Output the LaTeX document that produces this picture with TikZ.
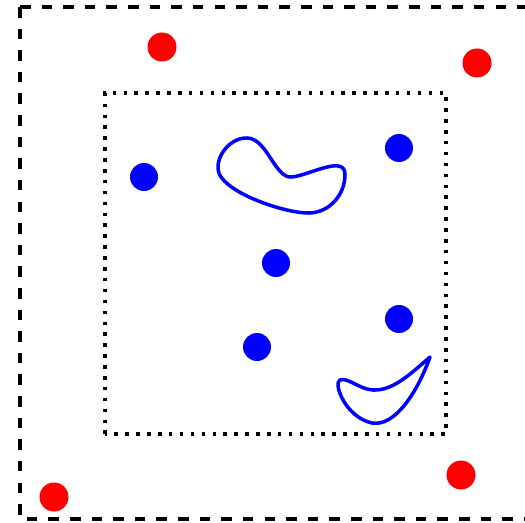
\documentclass[tikz,border=0pt]{standalone}
\usepackage{tikz}
\usetikzlibrary{calc}
\definecolor{outercol}{RGB}{255,0,0}
\definecolor{innercol}{RGB}{0,0,255}
\definecolor{framecol}{RGB}{0,0,0}

\begin{document}
\begin{tikzpicture}[
    outerbox/.style={framecol, line width=2.1pt, dash pattern=on 6pt off 6.3pt},
    innerbox/.style={framecol, line width=2pt, dash pattern=on 2pt off 4.2pt},
    blob/.style={innercol, line width=2pt},
    outerdot/.style={fill=outercol},
    innerdot/.style={fill=innercol},
]

\clip (0,0) rectangle (10.5,10.44);

% ════════════════════════════════════════════════════════
% 0. FRAMES
% ════════════════════════════════════════════════════════
\draw[outerbox] (0.40,10.30) -- (0.40,0.06) -- (10.9,0.06);
\draw[outerbox] (0.40,10.30) -- (10.9,10.30);
\draw[innerbox] (2.10,1.76) rectangle (8.92,8.58);

% ════════════════════════════════════════════════════════
% 1. RED POINTS (outside the inner frame)
% ════════════════════════════════════════════════════════
\fill[outerdot] (3.24, 9.50) circle (0.29);
\fill[outerdot] (9.54, 9.18) circle (0.29);
\fill[outerdot] (1.08, 0.50) circle (0.29);
\fill[outerdot] (9.22, 0.94) circle (0.29);

% ════════════════════════════════════════════════════════
% 2. BLUE POINTS (inside the inner frame)
% ════════════════════════════════════════════════════════
\fill[innerdot] (2.88, 6.90) circle (0.28);
\fill[innerdot] (7.98, 7.48) circle (0.28);
\fill[innerdot] (5.52, 5.18) circle (0.28);
\fill[innerdot] (7.98, 4.06) circle (0.28);
\fill[innerdot] (5.14, 3.50) circle (0.28);

% ════════════════════════════════════════════════════════
% 3. BLOBS
% ════════════════════════════════════════════════════════
% ── upper blob (bean shape), starting at the neck
\draw[blob]
    (5.84,6.90)
    .. controls (6.20,6.94) and (6.90,7.35) .. (6.90,6.95)
    .. controls (6.90,6.55) and (6.60,6.20) .. (6.20,6.18)
    .. controls (5.80,6.16) and (4.70,6.50) .. (4.42,6.90)
    .. controls (4.22,7.18) and (4.55,7.70) .. (4.95,7.68)
    .. controls (5.35,7.66) and (5.50,6.86) .. cycle;

% ── lower blob (crescent with a sharp tip)
\draw[blob, line join=round]
    (8.60,3.30)
    .. controls (8.20,2.95) and (7.85,2.62) .. (7.46,2.64)
    .. controls (7.20,2.65) and (6.95,2.90) .. (6.80,2.84)
    .. controls (6.66,2.78) and (6.90,2.10) .. (7.44,1.98)
    .. controls (7.90,1.90) and (8.35,2.60) .. cycle;

\end{tikzpicture}
\end{document}
